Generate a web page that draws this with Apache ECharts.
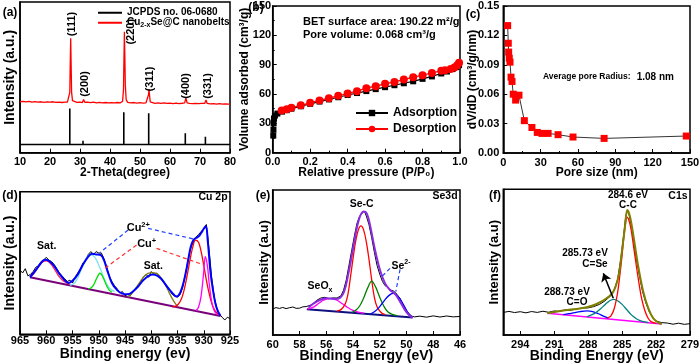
<!DOCTYPE html>
<html><head><meta charset="utf-8">
<script src="https://cdn.jsdelivr.net/npm/echarts@6/dist/echarts.min.js"></script>
<style>html,body{margin:0;padding:0;background:#fff}#c{width:700px;height:364px}</style>
</head><body><div id="c"></div>
<script>
const FONT = "'Liberation Sans', Arial, sans-serif";

// ---------- (a) XRD ----------
const aRedCurve = [[10,33.8],[11,34.1],[12,33.7],[13,34.0],[14,33.6],[15,33.9],[16,33.5],[17,33.8],[18,33.4],[19,33.7],[20,33.5],[21,33.8],[22,33.4],[23,33.6],[24,33.3],[25,33.6],[25.8,33.5],[26.3,34.2],[26.6,40],[26.75,60],[26.9,75.9],[27.05,58],[27.2,40],[27.5,34.6],[28,33.7],[29,33.4],[30,33.6],[30.8,33.3],[31.2,35.3],[31.6,33.4],[32.5,33.6],[33.5,33.2],[34.5,33.5],[35.5,33.1],[36.5,33.4],[37.5,33.0],[38.5,33.3],[39.5,33.0],[40.5,33.2],[41.5,33.0],[42.5,33.3],[43.5,33.1],[44.2,34.2],[44.5,42],[44.65,62],[44.8,80.3],[44.95,64],[45.1,45],[45.4,35],[45.9,33.4],[47,33.1],[48,33.3],[49,32.9],[50,33.2],[51,32.9],[52,33.1],[52.6,33.6],[52.85,38.5],[53.0,42.2],[53.15,38.5],[53.4,33.8],[54,33.0],[55,32.8],[56,33.1],[57,32.7],[58,33.0],[59,32.7],[60,32.9],[61,32.6],[62,32.9],[63,32.6],[64,32.8],[64.9,33.0],[65.3,36.4],[65.7,33.0],[66.5,32.7],[67.5,32.5],[68.5,32.8],[69.5,32.5],[70.5,32.7],[71.6,32.8],[72.0,35.0],[72.4,32.7],[73.5,32.4],[74.5,32.6],[75.5,32.3],[76.5,32.5],[77.5,32.2],[78.5,32.4],[79.5,32.2],[80,32.3]];
const aJcpdsPattern = [[10,5.4],[26.6,5.4],[26.6,29.4],[26.6,5.4],[31.0,5.4],[31.0,8.0],[31.0,5.4],[44.6,5.4],[44.6,26.8],[44.6,5.4],[52.9,5.4],[52.9,26.1],[52.9,5.4],[65.1,5.4],[65.1,12.9],[65.1,5.4],[71.8,5.4],[71.8,10.6],[71.8,5.4],[80,5.4]];
const aPeakLabels = ['(111)','(200)','(220)','(311)','(400)','(331)'];

// ---------- (b) BET isotherm ----------
const bAdsorption = [[0.003,17.5],[0.004,23.5],[0.005,30],[0.007,35],[0.012,38],[0.025,40],[0.05,42],[0.075,43.5],[0.1,45],[0.15,47.5],[0.2,50],[0.25,52.3],[0.3,54.5],[0.35,56.7],[0.4,59],[0.45,61],[0.5,63],[0.55,65],[0.6,67],[0.65,69],[0.7,71],[0.75,73],[0.8,75.5],[0.85,78],[0.9,81],[0.93,83],[0.96,85.5],[0.98,87.5],[0.995,89.5]];
const bDesorption = [[0.048,43.2],[0.075,44.5],[0.1,46],[0.15,48.4],[0.2,51],[0.25,53.5],[0.3,55.8],[0.35,58.2],[0.4,60.5],[0.45,62.9],[0.5,66],[0.55,68],[0.6,70.4],[0.65,72.4],[0.7,74.8],[0.75,77.2],[0.8,79.2],[0.85,81.6],[0.9,83.7],[0.92,84.4],[0.95,85.7],[0.97,87],[0.985,89.5],[0.995,92]];

// ---------- (c) pore size distribution ----------
const cPoreSize = [3.5,4.0,4.3,4.8,5.4,6.2,7.0,8.0,9.9,12.6,16.9,23,27.3,31,36,44,56,81,147];
const cDvdD = [0.130,0.112,0.103,0.0967,0.0927,0.0774,0.073,0.060,0.054,0.059,0.033,0.026,0.021,0.020,0.020,0.0187,0.0163,0.0149,0.0173];

// ---------- (d) Cu 2p ----------
const dRaw = [[965,45],[964.5,43],[964,46],[963.5,41],[963,42],[962.5,44],[962,47],[961.5,48],[961,51],[960.5,52],[960,54],[959.5,52],[959,51],[958.5,49],[958,46],[957.5,43],[957,41],[956.5,39],[956,37],[955.5,38],[955,36],[954.5,40],[954,43],[953.5,46],[953,50],[952.5,52],[952,56],[951.5,58],[951,56],[950.5,58],[950,57],[949.5,57],[949,53],[948.5,47],[948,41],[947.5,37],[947,34],[946.5,32],[946,29],[945.5,30],[945,27],[944.5,28],[944,27],[943.5,30],[943,32],[942.5,34],[942,37],[941.5,40],[941,42],[940.5,40],[940,44],[939.5,42],[939,43],[938.5,41],[938,38],[937.5,36],[937,34],[936.5,31],[936,28],[935.5,27],[935,26],[934.5,28],[934,33],[933.5,42],[933,52],[932.5,60],[932,65],[931.5,68],[931,70],[930.5,72],[930,74],[929.5,77],[929,60],[928.5,40],[928,26],[927.5,18],[927,14],[926.5,12],[926,10],[925.5,12],[925,11]];
const dBackground = [[963.1,40],[926.8,12.9]];
const dSat960 = [[963.1,40.6],[962.5,42],[962,44.5],[961.5,47.5],[961,50],[960.5,51.2],[960,51.5],[959.5,50.8],[959,48.8],[958.5,46],[958,43],[957.5,40.3],[957,38.3],[956.5,36.8],[956,35.8],[955.5,35]];
const dCu2p951 = [[955.5,34.5],[955,35],[954.5,36.5],[954,39.5],[953.5,44],[953,48.5],[952.5,52.5],[952,55],[951.5,55.6],[951,55],[950.5,52.5],[950,48.5],[949.5,44],[949,39.5],[948.5,35.5],[948,32.5],[947.5,31],[947,30]];
const dCu1p950 = [[952,31.8],[951.5,32.5],[951,34.5],[950.5,38.5],[950,42],[949.8,42.8],[949.5,42],[949,38.5],[948.5,34],[948,31],[947.5,29.5]];
const dSat940 = [[944.5,26],[944,27.5],[943.5,29.5],[943,32],[942.5,34.8],[942,37.5],[941.5,40],[941,41.8],[940.5,42.9],[939.7,43.2],[939,42.6],[938.5,41.3],[938,39],[937.5,36],[937,32.5],[936.5,28.5],[936,25],[935.5,22],[935,19.5]];
const dCu2p932 = [[936,19.3],[935.5,19.5],[935,20.5],[934.5,23],[934,27.5],[933.5,35],[933,44.5],[932.5,54.5],[932,62.5],[931.6,66],[931,64.5],[930.5,58],[930,48.5],[929.5,38],[929,29],[928.5,22],[928,17.5],[927.5,15],[927,13.5]];
const dCu1p930 = [[931.5,16.5],[931,19],[930.5,27],[930,44],[929.7,54.4],[929.3,48],[929,37],[928.5,23],[928,16.5],[927.5,14]];
const dEnvelope = [[963.1,40],[962,45],[961,50],[960.3,52.3],[959.5,51.5],[958.5,48],[957.5,42.5],[956.5,38],[955.8,36],[955,37.5],[954,42],[953,49],[952,54.5],[951.3,56.5],[950.5,56],[949.6,55.5],[949,52],[948.3,44],[947.5,36],[946.5,31],[945.5,28.5],[944.5,28],[943.5,30],[942.5,33.5],[941.5,38],[940.5,41],[939.7,42],[938.8,41],[938,38.5],[937,33.5],[936,29],[935.2,26.5],[934.5,29],[933.8,37],[933.2,47.4],[932.5,61],[932,66],[931.5,67.5],[931,68.5],[930.5,71],[930,74],[929.6,76],[929.2,64],[928.7,43],[928.2,30],[927.8,22],[927.3,16],[926.8,13]];
const dCu2Pointers = [[[944.4,73.1],[949.8,57.2]],[[940.6,74.3],[931.7,66.6]]];
const dCu1Pointers = [[[942.8,62.6],[949.1,45.6]],[[939,60.3],[929.95,48.6]]];

// ---------- (e) Se 3d ----------
const eRaw = [[60,18],[59.75,18.9],[59.5,18.3],[59.25,19],[59,18.2],[58.75,18.8],[58.5,19.3],[58.25,18.4],[58,18.5],[57.75,19.4],[57.5,19.6],[57.2,20.5],[57,21.5],[56.7,24],[56.4,25.5],[56.1,26],[55.8,25],[55.5,25.6],[55.2,25.5],[54.9,27],[54.7,31],[54.5,38],[54.3,48],[54.1,58],[53.9,68],[53.7,77],[53.5,82],[53.3,84],[53.15,85.5],[53,82],[52.8,76],[52.6,67],[52.4,57],[52.2,48],[52,42],[51.8,37],[51.6,34],[51.4,33],[51.2,31],[51,30.5],[50.8,29],[50.5,25.5],[50.2,20],[50,17],[49.8,14.5],[49.6,13],[49.4,12.5],[49,13],[48.5,12.3],[48,13.2],[47.5,12.4],[47,13.1],[46.5,12.5],[46,12.8]];
const eBaseline = [[57.45,17.7],[49.54,12]];
const eSeOx = [[57.4,17.8],[57,19],[56.6,21.5],[56.2,24],[55.7,25.3],[55.2,24],[54.8,21.5],[54.4,19],[54,17],[53.6,15.8],[53.2,15]];
const eSeC = [[55.2,16.5],[54.9,17.5],[54.6,21],[54.4,27],[54.2,39],[54,52.5],[53.8,64.5],[53.6,72.5],[53.4,75.2],[53.2,72.3],[53,64],[52.8,52],[52.6,38],[52.4,26],[52.2,19.5],[51.9,15.5],[51.6,14]];
const eSe2a = [[54.1,15.5],[53.8,17],[53.5,20],[53.2,25.5],[52.9,32.5],[52.6,37.2],[52.3,33],[52,26],[51.7,20],[51.4,16],[51,14],[50.7,13.4]];
const eSe2b = [[52.7,14.5],[52.4,16],[52.1,18.5],[51.8,22],[51.5,25.5],[51.2,28],[51,28.7],[50.8,28],[50.5,25],[50.2,20.5],[49.9,15.5],[49.6,12.5]];
const eEnvelope = [[57.33,18.9],[56.71,23],[55.96,25.3],[55.22,24.8],[54.72,28.7],[54.34,42.5],[53.97,60.9],[53.6,78.2],[53.22,85.1],[52.97,83.9],[52.73,75.9],[52.35,58.6],[51.98,44.8],[51.6,35.6],[51.23,31],[50.86,28.3],[50.48,23],[50.11,17.2],[49.74,13.1],[49.54,12.2]];
const eSe2Pointers = [[[51.23,46],[51.85,40.2]],[[50.48,45.3],[50.8,29.9]]];

// ---------- (f) C 1s ----------
const fRaw = [[295.5,15.5],[295,16.2],[294.5,15.4],[294,16],[293.5,15.2],[293,16.1],[292.5,15.5],[292,16.3],[291.5,15.6],[291,16.5],[290.5,16.2],[290,17.3],[289.5,17],[289,18],[288.5,18.5],[288,18.6],[287.5,19.5],[287,21],[286.5,23.5],[286,27],[285.7,31],[285.4,38],[285.1,53],[284.9,66],[284.7,80],[284.55,85.5],[284.4,83],[284.2,76],[284,66],[283.8,55],[283.5,42],[283.2,30],[282.9,22],[282.6,16],[282.3,12],[282,9.5],[281.5,8.5],[281,8.2],[280.5,7.4],[280,8.1],[279.5,7.3],[279,7.8]];
const fBaseline = [[291.6,14.9],[281.5,7.6]];
const fCO = [[290.2,14],[289.7,14.6],[289.2,15.4],[288.7,16.1],[288.1,16.5],[287.6,16],[287.1,14.6],[286.6,12.8],[286.2,11.6]];
const fCSe = [[288.1,12.5],[287.7,13.8],[287.3,15.5],[286.9,18],[286.5,21],[286.1,23.5],[285.75,24.5],[285.4,23.5],[285,21],[284.6,17.5],[284.2,14],[283.8,11.5],[283.4,9.8],[283,9],[282.7,8.5]];
const fCC = [[286.3,11.8],[286,13],[285.7,18],[285.4,29],[285.2,41],[285,55],[284.8,70],[284.55,80.8],[284.3,76],[284.1,67],[283.9,56],[283.6,40],[283.3,26],[283,17],[282.7,11.5],[282.4,9],[282,8]];
const fEnvelope = [[291.61,14.9],[290.49,16.5],[289.31,17.6],[288.13,19],[287.25,21.3],[286.37,25.2],[285.78,29.7],[285.33,40],[285.04,56],[284.75,74.4],[284.54,85.8],[284.3,81.2],[284.01,68.6],[283.57,46.9],[283.13,29.7],[282.68,18.3],[282.24,11.4],[281.8,8.5],[281.5,7.6]];
const fArrow = [[285.78,25.2],[286.66,42.3]];

// ---------- helpers ----------
function merge(a, b) {
  const o = Object.assign({}, a);
  for (const k in b) {
    if (b[k] && typeof b[k] === 'object' && !Array.isArray(b[k]) && a[k] && typeof a[k] === 'object' && !Array.isArray(a[k])) o[k] = merge(a[k], b[k]);
    else o[k] = b[k];
  }
  return o;
}
const baseAxis = {
  type: 'value', splitLine: { show: false }, nameLocation: 'middle', nameMoveOverlap: false,
  axisLine: { show: true, onZero: false, lineStyle: { color: '#000', width: 1.5 } },
  axisTick: { show: true, inside: true, length: 4, lineStyle: { color: '#000', width: 1 } },
  minorTick: { show: false },
  axisLabel: { color: '#000', fontFamily: FONT, fontWeight: 'bold', fontSize: 11, margin: 4, showMinLabel: true, showMaxLabel: true, hideOverlap: false },
  nameTextStyle: { color: '#000', fontFamily: FONT, fontWeight: 'bold', fontSize: 12 }
};
const X = (gi, o) => merge(merge(baseAxis, { gridIndex: gi }), o);
const Y = (gi, o) => merge(merge(baseAxis, { gridIndex: gi }), o);
const hiddenY = { min: 0, max: 100, axisLabel: { show: false }, axisTick: { show: false } };

const grid = (left, top, width, height) => ({ left, top, width, height, show: true, borderColor: '#000', borderWidth: 1.5, backgroundColor: 'transparent', containLabel: false, outerBoundsMode: 'none' });

function line(xi, data, color, width, extra) {
  return merge({ type: 'line', xAxisIndex: xi, yAxisIndex: xi, data, symbol: 'none', showSymbol: false, silent: true,
    lineStyle: { color, width }, itemStyle: { color }, z: 2 }, extra || {});
}
function smoothLine(xi, data, color, width, extra) { return line(xi, data, color, width, merge({ smooth: 0.35 }, extra || {})); }
function dashed(xi, data, color) { return line(xi, data, color, 1.2, { lineStyle: { type: [4, 3] }, z: 5 }); }

function T(x, y, text, size, extra) {
  return merge({ type: 'text', x, y, silent: true, z: 100,
    style: { text, fill: '#000', fontFamily: FONT, fontWeight: 'bold', fontSize: size, align: 'center', verticalAlign: 'middle' } }, extra || {});
}
function R(x, y, text, rich, extra) {
  return merge({ type: 'text', x, y, silent: true, z: 100,
    style: { text, fill: '#000', fontFamily: FONT, fontWeight: 'bold', fontSize: 11, align: 'center', verticalAlign: 'middle', rich } }, extra || {});
}
const tok = (size, va, lh, color) => ({ fontSize: size, fontWeight: 'bold', fontFamily: FONT, fill: color || '#000', color: color || '#000', verticalAlign: va, lineHeight: lh });

const series = [
  // (a)
  line(0, aJcpdsPattern, '#000', 1.6, { name: 'JCPDS no. 06-0680' }),
  line(0, aRedCurve, '#ff0000', 1.3, { name: 'Cu2-xSe@C nanobelts' }),
  // (b)
  { type: 'line', name: 'Adsorption', xAxisIndex: 1, yAxisIndex: 1, data: bAdsorption, symbol: 'rect', symbolSize: 6, showSymbol: true, lineStyle: { color: '#000', width: 1.2 }, itemStyle: { color: '#000' }, silent: true },
  { type: 'line', name: 'Desorption', xAxisIndex: 1, yAxisIndex: 1, data: bDesorption, symbol: 'circle', symbolSize: 8, showSymbol: true, lineStyle: { color: '#ff0000', width: 1.2 }, itemStyle: { color: '#ff0000' }, silent: true },
  // (c)
  { type: 'line', xAxisIndex: 2, yAxisIndex: 2, data: cPoreSize.map((x, i) => [x, cDvdD[i]]), symbol: 'rect', symbolSize: 7, showSymbol: true, lineStyle: { color: '#000', width: 0.8 }, itemStyle: { color: '#ff0000' }, silent: true },
  // (d)
  line(3, dRaw, '#000', 1),
  line(3, dBackground, '#7a007a', 2),
  smoothLine(3, dSat960, '#ff2050', 1.3),
  smoothLine(3, dCu2p951, '#80e0ee', 1.3),
  smoothLine(3, dCu1p950, '#00e000', 1.3),
  smoothLine(3, dSat940, '#7f7a18', 1.3),
  smoothLine(3, dCu2p932, '#ff0000', 1.3),
  smoothLine(3, dCu1p930, '#ff00ff', 1.3),
  smoothLine(3, dEnvelope, '#0000ff', 2, { z: 3 }),
  dashed(3, dCu2Pointers[0], '#2040ff'), dashed(3, dCu2Pointers[1], '#2040ff'),
  dashed(3, dCu1Pointers[0], '#ff3030'), dashed(3, dCu1Pointers[1], '#ff3030'),
  // (e)
  line(4, eRaw, '#000', 1),
  line(4, eBaseline, '#101080', 2),
  smoothLine(4, eSeOx, '#ff00ff', 1.3),
  smoothLine(4, eSeC, '#ff0000', 1.3),
  smoothLine(4, eSe2a, '#008000', 1.3),
  smoothLine(4, eSe2b, '#0000ff', 1.3),
  smoothLine(4, eEnvelope, '#8a2be2', 2, { z: 3 }),
  dashed(4, eSe2Pointers[0], '#2040ff'), dashed(4, eSe2Pointers[1], '#2040ff'),
  // (f)
  line(5, fRaw, '#000', 1),
  line(5, fBaseline, '#ff00ff', 1.6),
  smoothLine(5, fCO, '#0000ff', 1.3),
  smoothLine(5, fCSe, '#008080', 1.3),
  smoothLine(5, fCC, '#ff0000', 1.3, {
    markLine: { silent: true, symbol: ['none', 'arrow'], symbolSize: 8, label: { show: false }, animation: false,
      lineStyle: { color: '#000', type: 'solid', width: 1.5 },
      data: [[{ coord: fArrow[0] }, { coord: fArrow[1] }]] }
  }),
  smoothLine(5, fEnvelope, '#808000', 2, { z: 3 })
];

const peakPos = [[71.7, 24], [85, 84], [130.7, 31.7], [149.5, 79], [186, 86], [207.5, 86]];

const graphics = [
  T(10, 13, '(a)', 12), T(256, 8, '(b)', 12), T(473, 15, '(c)', 12),
  T(10, 196, '(d)', 12), T(263, 196, '(e)', 12), T(495, 196, '(f)', 12),
  ...aPeakLabels.map((s, i) => T(peakPos[i][0], peakPos[i][1], s, 11, { rotation: Math.PI / 2 })),
  T(303, 21.7, 'BET surface area: 190.22 m\u00B2/g', 11, { style: { align: 'left' } }),
  T(303, 35, 'Pore volume: 0.068 cm\u00B3/g', 11, { style: { align: 'left' } }),
  R(543, 77, '{s|Average pore Radius:}  {b|1.08 nm}', { s: tok(8.5, 'middle', 12), b: tok(10, 'middle', 12) }, { style: { align: 'left' } }),
  T(46.7, 246, 'Sat.', 10.5), T(153.3, 266, 'Sat.', 10.5), T(213, 197, 'Cu 2p', 10.5),
  R(138.3, 227, '{a|Cu}{b|2+}', { a: tok(11, 'bottom', 13), b: tok(7.5, 'top', 8) }),
  R(146.7, 243, '{a|Cu}{b|+}', { a: tok(11, 'bottom', 13), b: tok(7.5, 'top', 8) }),
  T(361.7, 204, 'Se-C', 10.5), T(445, 196, 'Se3d', 10.5),
  R(320, 287, '{a|SeO}{b|x}', { a: tok(10.5, 'top', 13), b: tok(7, 'bottom', 8) }),
  R(401, 265, '{a|Se}{b|2-}', { a: tok(10.5, 'bottom', 13), b: tok(7, 'top', 8) }),
  T(628, 195, '284.6 eV', 10), T(628, 205, 'C-C', 10),
  T(585, 253, '285.73 eV', 10), T(595, 264, 'C=Se', 10),
  T(567, 292, '288.73 eV', 10), T(577, 302, 'C=O', 10),
  T(678, 196, 'C1s', 10.5)
];

const option = {
  animation: false,
  backgroundColor: '#fff',
  grid: [
    grid(20, 2, 210, 150.7),
    grid(272.7, 6, 187.3, 146.7),
    grid(503.3, 6, 186.7, 147),
    grid(20, 191.7, 210, 142.6),
    grid(272.7, 190, 187.3, 145),
    grid(503.3, 189.3, 186.7, 145.7)
  ],
  xAxis: [
    X(0, { min: 10, max: 80, interval: 10, name: '2-Theta(degree)', nameGap: 13.5, axisLabel: { margin: 3.5 } }),
    X(1, { min: 0, max: 1, interval: 0.2, name: 'Relative pressure (P/P\u2080)', nameGap: 14, minorTick: { show: true, splitNumber: 2, length: 2 }, axisLabel: { formatter: v => v.toFixed(1) } }),
    X(2, { min: 0, max: 150, interval: 30, name: 'Pore size (nm)', nameGap: 14, minorTick: { show: true, splitNumber: 2, length: 2 } }),
    X(3, { min: 925, max: 965, interval: 5, inverse: true, name: 'Binding energy (ev)', nameGap: 12.5, axisLabel: { margin: 1.5 }, nameTextStyle: { fontSize: 14 } }),
    X(4, { min: 46, max: 60, interval: 2, inverse: true, name: 'Binding Energy (eV)', nameGap: 14, nameTextStyle: { fontSize: 14 } }),
    X(5, { min: 279, max: 295.5, interval: 3, inverse: true, name: 'Binding Energy (eV)', nameGap: 14, axisLabel: { showMaxLabel: false }, nameTextStyle: { fontSize: 14 } })
  ],
  yAxis: [
    Y(0, merge(hiddenY, { name: 'Intensity (a.u.)', nameGap: 3, nameTextStyle: { fontSize: 14 } })),
    Y(1, { min: 0, max: 150, interval: 30, name: 'Volume adsorbed (cm\u00B3/g)', nameGap: 22, axisLabel: { margin: 1.5 }, minorTick: { show: true, splitNumber: 2, length: 2 } }),
    Y(2, { min: 0, max: 0.15, interval: 0.03, name: 'dV/dD (cm\u00B3/g/nm)', nameGap: 25, axisLabel: { formatter: v => v.toFixed(2) } }),
    Y(3, merge(hiddenY, { name: 'Intensity (a.u.)', nameGap: 3, nameTextStyle: { fontSize: 14 } })),
    Y(4, merge(hiddenY, { name: 'Intensity (a.u)', nameGap: 2, nameTextStyle: { fontSize: 13 } })),
    Y(5, merge(hiddenY, { name: 'Intensity (a.u)', nameGap: 2, nameTextStyle: { fontSize: 13 } }))
  ],
  legend: [
    {
      data: [{ name: 'JCPDS no. 06-0680', icon: 'rect' }, { name: 'Cu2-xSe@C nanobelts', icon: 'rect' }], left: 98, top: 7, orient: 'vertical',
      itemWidth: 24, itemHeight: 2, itemGap: 0, selectedMode: false, padding: 0,
      textStyle: { color: '#000', fontFamily: FONT, fontWeight: 'bold', fontSize: 10,
        rich: { n: { fontSize: 10, fontWeight: 'bold', fontFamily: FONT, color: '#000', lineHeight: 11.5, verticalAlign: 'top' },
                s: { fontSize: 7, fontWeight: 'bold', fontFamily: FONT, color: '#000', lineHeight: 5, verticalAlign: 'bottom' } } },
      formatter: name => name === 'Cu2-xSe@C nanobelts' ? '{n|Cu}{s|2-x}{n|Se@C nanobelts}' : '{n|' + name + '}'
    },
    {
      data: ['Adsorption', 'Desorption'], left: 355, top: 107, orient: 'vertical',
      itemWidth: 32, itemHeight: 8, itemGap: 4, selectedMode: false, padding: 0,
      textStyle: { color: '#000', fontFamily: FONT, fontWeight: 'bold', fontSize: 12 }
    }
  ],
  series,
  graphic: graphics
};

const chart = echarts.init(document.getElementById('c'), null, { renderer: 'canvas', width: 700, height: 364 });
chart.setOption(option);
</script></body></html>
